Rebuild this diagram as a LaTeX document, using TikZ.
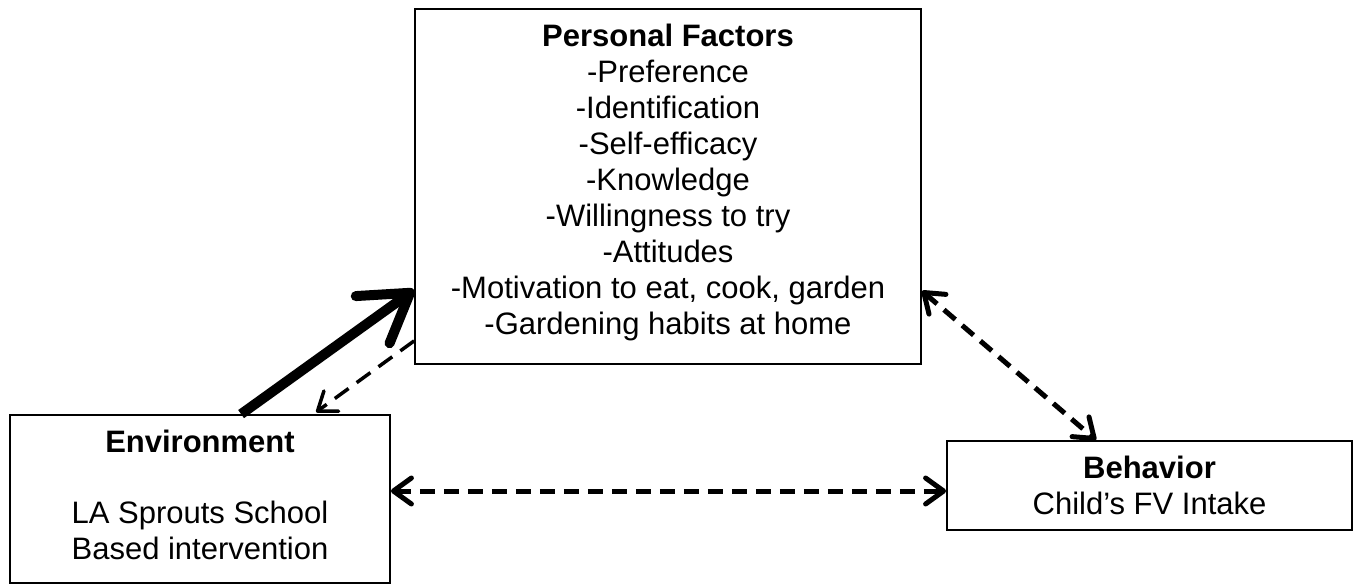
\documentclass[tikz,border=0pt]{standalone}
\usepackage{fontspec}
\setmainfont{Liberation Sans}
\usetikzlibrary{arrows.meta,calc}
\tikzset{
  box/.style={draw=black, line width=1.8pt, rectangle, inner sep=0pt},
  txt/.style={align=center, inner sep=0pt, anchor=north, font=\fontsize{31}{36}\selectfont},
  thickarrow/.style={line width=10pt, -{Straight Barb[round,length=46pt,width=58pt]}},
  dasharrow/.style={line width=5pt, dash pattern=on 15pt off 9pt, {Straight Barb[round,length=18pt,width=26pt]}-{Straight Barb[round,length=18pt,width=26pt]}},
  backarrow/.style={line width=3.5pt, dash pattern=on 17pt off 10pt, -{Straight Barb[round,length=17pt,width=25pt]}}
}
\begin{document}
\begin{tikzpicture}[x=1pt,y=-1pt]
\useasboundingbox (0,0) rectangle (1356,585);
\fill[white] (0,0) rectangle (1356,585);
% boxes
\node[box, minimum width=506pt, minimum height=355pt] (pf) at (668,186.5) {};
\node[box, minimum width=380pt, minimum height=168pt] (env) at (200,499) {};
\node[box, minimum width=405pt, minimum height=89pt] (beh) at (1149.5,485.5) {};
% texts
\node[txt] (pftext) at (668,24) {\textbf{Personal Factors}\\-Preference\\-Identification\\-Self-efficacy\\-Knowledge\\-Willingness to try\\-Attitudes\\-Motivation to eat, cook, garden\\-Gardening habits at home};
\node[txt] (envtext) at (200,430) {\textbf{Environment}\\[35pt]LA Sprouts School\\Based intervention};
\node[txt] (behtext) at (1149.5,456) {\textbf{Behavior}\\Child’s FV Intake};
% connectors
\coordinate (a1) at ($(env.north west)+(232,0)$);
\coordinate (a2) at ($(pf.south west)+(0,-75)$);
\draw[thickarrow] (a1) -- (a2);
\coordinate (b1) at ($(pf.south west)+(0,-24)$);
\coordinate (b2) at ($(env.north west)+(307,-2)$);
\draw[backarrow] (b1) -- (b2);
\coordinate (c1) at ($(pf.south east)+(0,-74)$);
\coordinate (c2) at ($(beh.north west)+(150,0)$);
\draw[dasharrow] (c1) -- (c2);
\coordinate (d1) at ($(env.east)+(0,-8)$);
\coordinate (d2) at (beh.west |- d1);
\draw[dasharrow] (d1) -- (d2);
\end{tikzpicture}
\end{document}
